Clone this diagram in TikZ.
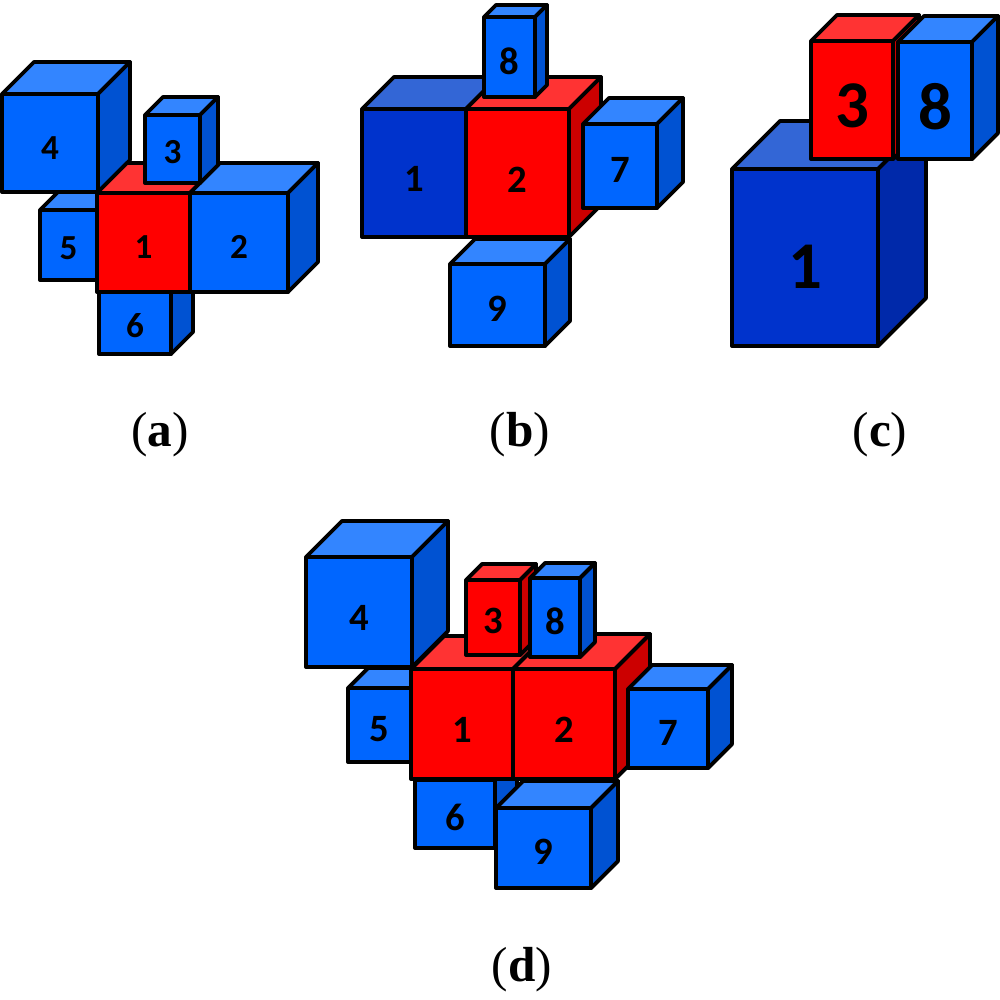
\documentclass[tikz,border=0pt]{standalone}
\usepackage{fontspec}
\newfontfamily\cubefont{Carlito}
\newfontfamily\capfont{Liberation Serif}
\definecolor{Bf}{RGB}{0,102,255}\definecolor{Bt}{RGB}{51,133,255}\definecolor{Bs}{RGB}{0,82,210}
\definecolor{Df}{RGB}{0,51,204}\definecolor{Dt}{RGB}{51,102,214}\definecolor{Ds}{RGB}{0,41,170}
\definecolor{Rf}{RGB}{255,0,0}\definecolor{Rt}{RGB}{255,51,51}\definecolor{Rs}{RGB}{204,0,0}
\tikzset{face/.style={draw=black,line width=1.1pt,line join=round},
 num/.style={font=\cubefont\bfseries\fontsize{#1}{#1}\selectfont,inner sep=0pt},
 lbl/.style={font=\capfont\fontsize{14}{16}\selectfont,inner sep=0pt}}
\newcommand\mycap[1]{(\textbf{#1})}
% \mycube{x}{y}{w}{h}{d}{scheme}{label}{size}{panel}
\newcommand\mycube[9]{%
 \filldraw[face,fill=#6t] (#1,#2)--++(#5,-#5)--++(#3,0)--++(-#5,#5)--cycle;
 \filldraw[face,fill=#6s] (#1+#3,#2)--++(#5,-#5)--++(0,#4)--++(-#5,#5)--cycle;
 \filldraw[face,fill=#6f] (#1,#2) rectangle ++(#3,#4);
 \node[num=#8] (n#9#7) at (#1+0.5*#3,#2+0.55*#4) {#7};}
\begin{document}
\begin{tikzpicture}[x=0.01cm,y=-0.01cm]
\useasboundingbox (0,0) rectangle (1000,1000);
% (a)
\mycube{2}{94}{96}{98}{32}{B}{4}{10}{a}
\mycube{40}{210}{57}{70}{18}{B}{5}{10}{a}
\mycube{99}{292}{72}{62}{22}{B}{6}{10}{a}
\mycube{97}{193}{93}{99}{30}{R}{1}{10}{a}
\mycube{190}{193}{98}{99}{30}{B}{2}{10}{a}
\mycube{145}{115}{55}{68}{18}{B}{3}{10}{a}
\node[lbl] (ca) at (160,435) {\mycap{a}};
% (b)
\mycube{362}{109}{104}{128}{32}{D}{1}{11}{b}
\mycube{466}{109}{103}{128}{32}{R}{2}{11}{b}
\mycube{484}{17}{51}{80}{12}{B}{8}{11}{b}
\mycube{583}{124}{74}{84}{26}{B}{7}{11}{b}
\mycube{450}{264}{95}{82}{25}{B}{9}{11}{b}
\node[lbl] (cb) at (520,435) {\mycap{b}};
% (c)
\mycube{732}{169}{146}{177}{48}{D}{1}{19}{c}
\mycube{811}{41}{82}{118}{26}{R}{3}{19}{c}
\mycube{898}{42}{74}{117}{26}{B}{8}{19}{c}
\node[lbl] (cc) at (880,435) {\mycap{c}};
% (d)
\mycube{306}{557}{106}{110}{36}{B}{4}{11}{d}
\mycube{348}{688}{63}{74}{20}{B}{5}{11}{d}
\mycube{415}{780}{80}{68}{22}{B}{6}{11}{d}
\mycube{411}{669}{102}{110}{33}{R}{1}{11}{d}
\mycube{513}{669}{102}{110}{35}{R}{2}{11}{d}
\mycube{466}{580}{54}{75}{16}{R}{3}{11}{d}
\mycube{530}{578}{50}{79}{15}{B}{8}{11}{d}
\mycube{628}{689}{80}{79}{24}{B}{7}{11}{d}
\mycube{496}{808}{95}{80}{27}{B}{9}{11}{d}
\node[lbl] (cd) at (522,970) {\mycap{d}};
\end{tikzpicture}
\end{document}
